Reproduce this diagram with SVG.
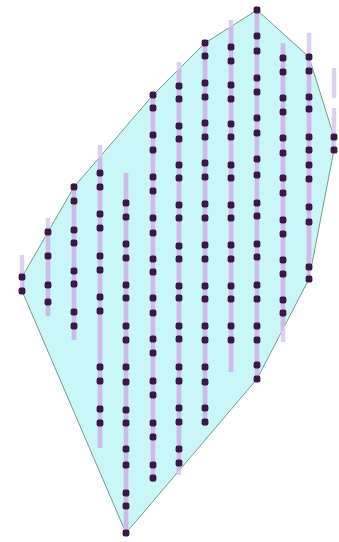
<svg xmlns="http://www.w3.org/2000/svg" width="339" height="542" viewBox="0 0 339 542">
<style>
.hull{fill:#c9f6f6;stroke:#6f9e8c;stroke-width:1}
.ln{stroke:#cdbbea;stroke-width:4.5;fill:none}
.faint{stroke:#dcd2ef;stroke-width:4.5;fill:none}
.d{fill:#3b1747}
</style>
<defs>
<rect id="p" x="-3.4" y="-3.4" width="6.8" height="6.8" rx="2.2"/>
<clipPath id="hc"><polygon points="257,10 309,57 334,137 334,150 309,279 257,379 126,533 22,291 22,277 48,232 74,187 153,95 205,43"/></clipPath>
<g id="cols">
<line x1="22" y1="255" x2="22" y2="293"/>
<line x1="48" y1="218" x2="48" y2="316"/>
<line x1="74" y1="183" x2="74" y2="340"/>
<line x1="100" y1="145" x2="100" y2="448"/>
<line x1="126" y1="173" x2="126" y2="533"/>
<line x1="153" y1="95" x2="153" y2="482"/>
<line x1="179" y1="62" x2="179" y2="475"/>
<line x1="205" y1="43" x2="205" y2="426"/>
<line x1="231" y1="20" x2="231" y2="372"/>
<line x1="257" y1="10" x2="257" y2="379"/>
<line x1="283" y1="43" x2="283" y2="342"/>
<line x1="309" y1="33" x2="309" y2="282"/>
<line x1="334" y1="68" x2="334" y2="98"/>
<line x1="334" y1="108" x2="334" y2="151"/>
</g>
</defs>
<rect width="339" height="542" fill="#ffffff"/>
<polygon class="hull" points="257,10 309,57 334,137 334,150 309,279 257,379 126,533 22,291 22,277 48,232 74,187 153,95 205,43"/>
<g id="lines">
<use class="faint" href="#cols"/>
<use class="ln" href="#cols" clip-path="url(#hc)"/>
</g>
<g id="dots" class="d">
<g transform="translate(22,0)"><use href="#p" y="277"/><use href="#p" y="291"/></g>
<g transform="translate(48,0)"><use href="#p" y="232"/><use href="#p" y="256"/><use href="#p" y="285"/><use href="#p" y="302"/></g>
<g transform="translate(74,0)"><use href="#p" y="187"/><use href="#p" y="201"/><use href="#p" y="230"/><use href="#p" y="243"/><use href="#p" y="271"/><use href="#p" y="284"/><use href="#p" y="312"/><use href="#p" y="326"/></g>
<g transform="translate(100,0)"><use href="#p" y="173"/><use href="#p" y="187"/><use href="#p" y="214"/><use href="#p" y="228"/><use href="#p" y="256"/><use href="#p" y="270"/><use href="#p" y="297"/><use href="#p" y="311"/><use href="#p" y="367"/><use href="#p" y="381"/><use href="#p" y="409"/><use href="#p" y="423"/></g>
<g transform="translate(126,0)"><use href="#p" y="203"/><use href="#p" y="217"/><use href="#p" y="244"/><use href="#p" y="258"/><use href="#p" y="285"/><use href="#p" y="298"/><use href="#p" y="326"/><use href="#p" y="340"/><use href="#p" y="367"/><use href="#p" y="382"/><use href="#p" y="410"/><use href="#p" y="423"/><use href="#p" y="449"/><use href="#p" y="465"/><use href="#p" y="493"/><use href="#p" y="506"/><use href="#p" y="533"/></g>
<g transform="translate(153,0)"><use href="#p" y="95"/><use href="#p" y="108"/><use href="#p" y="135"/><use href="#p" y="150"/><use href="#p" y="177"/><use href="#p" y="191"/><use href="#p" y="218"/><use href="#p" y="233"/><use href="#p" y="259"/><use href="#p" y="272"/><use href="#p" y="298"/><use href="#p" y="313"/><use href="#p" y="339"/><use href="#p" y="353"/><use href="#p" y="381"/><use href="#p" y="395"/><use href="#p" y="423"/><use href="#p" y="437"/><use href="#p" y="465"/><use href="#p" y="478"/></g>
<g transform="translate(179,0)"><use href="#p" y="86"/><use href="#p" y="99"/><use href="#p" y="126"/><use href="#p" y="139"/><use href="#p" y="165"/><use href="#p" y="178"/><use href="#p" y="205"/><use href="#p" y="218"/><use href="#p" y="246"/><use href="#p" y="259"/><use href="#p" y="286"/><use href="#p" y="298"/><use href="#p" y="326"/><use href="#p" y="339"/><use href="#p" y="367"/><use href="#p" y="381"/><use href="#p" y="408"/><use href="#p" y="422"/><use href="#p" y="449"/><use href="#p" y="463"/></g>
<g transform="translate(205,0)"><use href="#p" y="43"/><use href="#p" y="56"/><use href="#p" y="83"/><use href="#p" y="97"/><use href="#p" y="123"/><use href="#p" y="137"/><use href="#p" y="163"/><use href="#p" y="177"/><use href="#p" y="204"/><use href="#p" y="218"/><use href="#p" y="245"/><use href="#p" y="259"/><use href="#p" y="286"/><use href="#p" y="299"/><use href="#p" y="326"/><use href="#p" y="340"/><use href="#p" y="367"/><use href="#p" y="382"/><use href="#p" y="408"/><use href="#p" y="422"/></g>
<g transform="translate(231,0)"><use href="#p" y="47"/><use href="#p" y="61"/><use href="#p" y="85"/><use href="#p" y="99"/><use href="#p" y="124"/><use href="#p" y="137"/><use href="#p" y="165"/><use href="#p" y="178"/><use href="#p" y="205"/><use href="#p" y="218"/><use href="#p" y="245"/><use href="#p" y="259"/><use href="#p" y="286"/><use href="#p" y="299"/><use href="#p" y="326"/><use href="#p" y="340"/></g>
<g transform="translate(257,0)"><use href="#p" y="10"/><use href="#p" y="36"/><use href="#p" y="51"/><use href="#p" y="78"/><use href="#p" y="92"/><use href="#p" y="118"/><use href="#p" y="133"/><use href="#p" y="159"/><use href="#p" y="175"/><use href="#p" y="203"/><use href="#p" y="216"/><use href="#p" y="244"/><use href="#p" y="257"/><use href="#p" y="285"/><use href="#p" y="299"/><use href="#p" y="326"/><use href="#p" y="340"/><use href="#p" y="365"/><use href="#p" y="379"/></g>
<g transform="translate(283,0)"><use href="#p" y="58"/><use href="#p" y="72"/><use href="#p" y="98"/><use href="#p" y="112"/><use href="#p" y="138"/><use href="#p" y="153"/><use href="#p" y="178"/><use href="#p" y="193"/><use href="#p" y="220"/><use href="#p" y="234"/><use href="#p" y="260"/><use href="#p" y="274"/><use href="#p" y="300"/><use href="#p" y="313"/></g>
<g transform="translate(309,0)"><use href="#p" y="57"/><use href="#p" y="71"/><use href="#p" y="97"/><use href="#p" y="109"/><use href="#p" y="137"/><use href="#p" y="150"/><use href="#p" y="165"/><use href="#p" y="179"/><use href="#p" y="207"/><use href="#p" y="222"/><use href="#p" y="267"/><use href="#p" y="279"/></g>
<g transform="translate(334,0)"><use href="#p" y="137"/><use href="#p" y="150"/></g>
</g>
</svg>
